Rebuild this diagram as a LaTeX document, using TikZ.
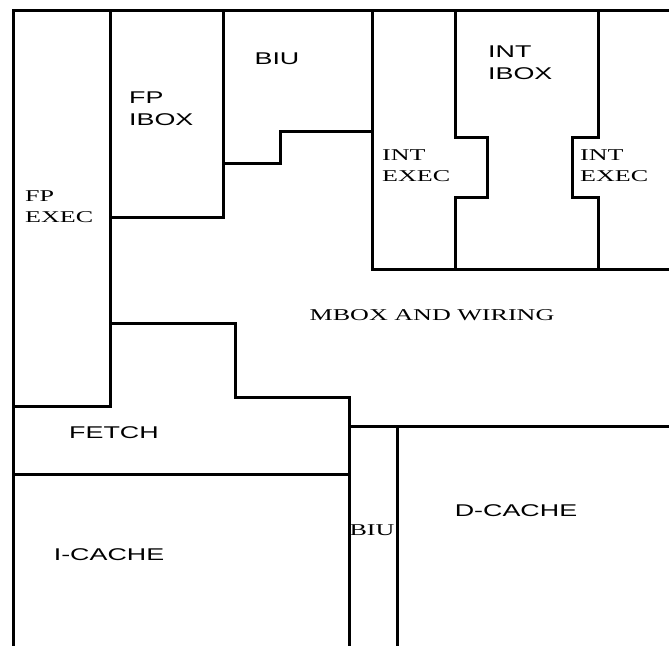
\documentclass[tikz,border=0pt]{standalone}
\usepackage{fontspec}
\setmainfont{Liberation Serif}
\newfontfamily\arialfam{Liberation Sans}
\newcommand{\stretchtxt}[1]{\scalebox{1.58}[1]{#1}}
\begin{document}
\begin{tikzpicture}[x=1pt,y=-1pt,
  wall/.style={line width=3pt, line cap=rect, line join=miter},
  sanslbl/.style={inner sep=0pt, font=\arialfam\fontsize{17}{22}\selectfont, align=left},
  seriflbl/.style={inner sep=0pt, font=\fontsize{16.5}{21}\selectfont, align=left}]
\useasboundingbox (0,0) rectangle (669,645);
% outer frame
\draw[wall] (13,645) -- (13,10) -- (669,10);
% FP EXEC / FP IBOX
\draw[wall] (110,10) -- (110,406);
\draw[wall] (13,406) -- (110,406);
\draw[wall] (110,217) -- (223,217) -- (223,10);
% BIU top
\draw[wall] (223,163) -- (280,163) -- (280,131) -- (372,131);
% INT row
\draw[wall] (372,10) -- (372,269) -- (669,269);
\draw[wall] (455,10) -- (455,137) -- (487,137) -- (487,197) -- (455,197) -- (455,269);
\draw[wall] (598,10) -- (598,137) -- (572,137) -- (572,197) -- (598,197) -- (598,269);
% MBOX lower boundary
\draw[wall] (110,323) -- (235,323) -- (235,397) -- (349,397) -- (349,426) -- (669,426);
% FETCH / caches
\draw[wall] (349,397) -- (349,645);
\draw[wall] (13,474) -- (349,474);
\draw[wall] (397,426) -- (397,645);
% labels
\node[sanslbl] (biutop) at (277,59) {\stretchtxt{BIU}};
\node[sanslbl, anchor=north west] (fpibox) at (129,92) {\stretchtxt{FP}\\\stretchtxt{IBOX}};
\node[seriflbl, anchor=north west] (fpexec) at (25,190) {\stretchtxt{FP}\\\stretchtxt{EXEC}};
\node[sanslbl, anchor=north west] (intibox) at (488,46) {\stretchtxt{INT}\\\stretchtxt{IBOX}};
\node[seriflbl, anchor=north west] (intexecl) at (382,149) {\stretchtxt{INT}\\\stretchtxt{EXEC}};
\node[seriflbl, anchor=north west] (intexecr) at (580,149) {\stretchtxt{INT}\\\stretchtxt{EXEC}};
\node[seriflbl] (mbox) at (432,315) {\stretchtxt{MBOX AND WIRING}};
\node[sanslbl] (fetch) at (114,433) {\stretchtxt{FETCH}};
\node[sanslbl] (dcache) at (516,511) {\stretchtxt{D-CACHE}};
\node[seriflbl] (biubot) at (372,530) {\stretchtxt{BIU}};
\node[sanslbl] (icache) at (109,555) {\stretchtxt{I-CACHE}};
\end{tikzpicture}
\end{document}
